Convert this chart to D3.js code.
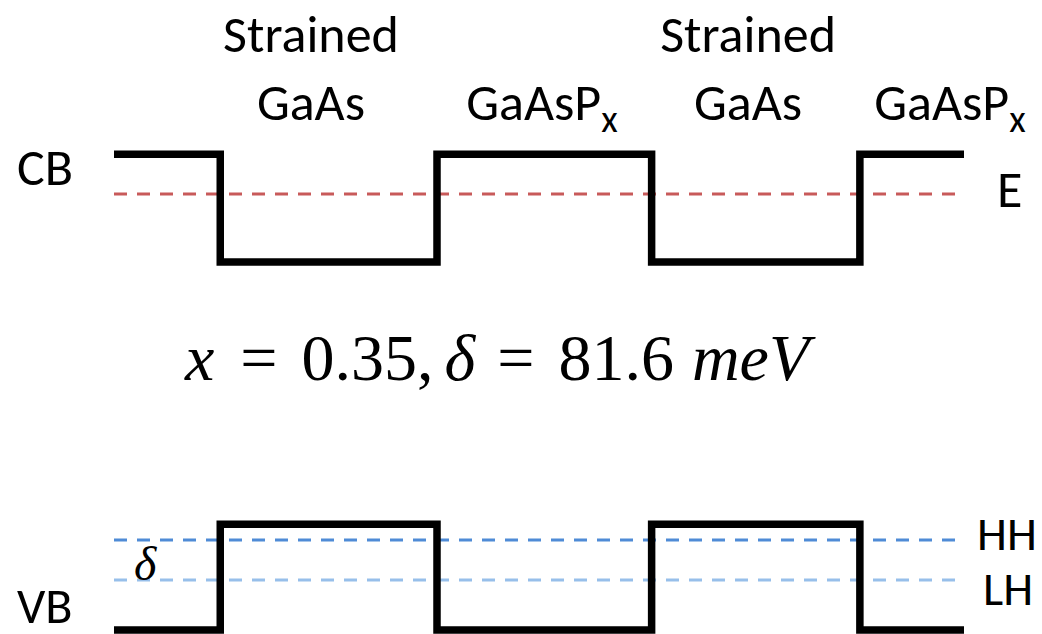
<!DOCTYPE html>
<html>
<head>
<meta charset="utf-8">
<script src="https://cdn.jsdelivr.net/npm/d3@7"></script>
<style>
  body { margin: 0; background: white; }
  svg { display: block; }
</style>
</head>
<body>
<script>
// layer stack, left to right (thickness in arbitrary nm-like units)
const layers = ['GaAsP', 'GaAs', 'GaAsP', 'GaAs', 'GaAsP'];
const thickness = [5, 10.2, 10.1, 9.8, 4.9];
// band edges in meV (zero = VB edge of the GaAsP barrier)
const cbEdge = [971, 751, 971, 751, 971];
const vbEdge = [0, 216, 0, 216, 0];
// dashed levels
const levelNames = ['E', 'HH', 'LH'];
const levelEnergy = [890, 183.6, 102];
const levelColors = ['#c85a5a', '#4f8bd6', '#97bfea'];
// top labels
const topLabels = [['Strained', 'GaAs'], ['GaAsP'], ['Strained', 'GaAs'], ['GaAsP']];
const topLabelPos = [9.27, 20.14, 29.84, 39.34];

let dim = { width: 1042, height: 634 };
let svg = d3.select('body').append('svg')
  .attr('width', dim.width)
  .attr('height', dim.height);

let scaleX = d3.scaleLinear().domain([0, 40]).range([114, 964]);
let scaleY = d3.scaleLinear().domain([0, 1000]).range([630, 140]);

let bounds = [0];
thickness.forEach((t) => bounds.push(bounds[bounds.length - 1] + t));

function stepPoints(edge) {
  let pts = layers.map((l, i) => ({ x: bounds[i], e: edge[i] }));
  pts.push({ x: bounds[bounds.length - 1], e: edge[edge.length - 1] });
  return pts;
}

let step = d3.line()
  .x((d) => scaleX(d.x))
  .y((d) => scaleY(d.e))
  .curve(d3.curveStepAfter);

// dashed levels first, so the band edges sit on top
let lvl = svg.append('g');
levelNames.forEach((name, i) => {
  lvl.append('line')
    .attr('x1', scaleX(0))
    .attr('x2', scaleX(40))
    .attr('y1', scaleY(levelEnergy[i]))
    .attr('y2', scaleY(levelEnergy[i]))
    .attr('stroke', levelColors[i])
    .attr('stroke-width', 3)
    .attr('stroke-dasharray', '13,10');
});

// band edges
[cbEdge, vbEdge].forEach((edge) => {
  svg.append('path')
    .attr('d', step(stepPoints(edge)))
    .attr('fill', 'none')
    .attr('stroke', 'black')
    .attr('stroke-width', 7.5)
    .attr('stroke-linejoin', 'miter');
});

const sans = 'Carlito, Calibri, Lato, sans-serif';
const serif = '"Liberation Serif", "Times New Roman", serif';

// layer labels on top
topLabels.forEach((lines, i) => {
  let t = svg.append('text')
    .attr('x', scaleX(topLabelPos[i]))
    .attr('y', lines.length === 2 ? 52 : 120)
    .attr('text-anchor', 'middle')
    .style('font-family', sans)
    .style('font-size', '52px');
  if (lines.length === 2) {
    t.append('tspan').attr('x', scaleX(topLabelPos[i])).text(lines[0]);
    t.append('tspan').attr('x', scaleX(topLabelPos[i])).attr('y', 120).text(lines[1]);
  } else {
    t.append('tspan').text(lines[0]);
    t.append('tspan').attr('dy', 12).style('font-size', '38px').text('x');
  }
});

// band labels
let sideLabels = [
  { t: 'CB', x: 17, y: scaleY(cbEdge[0]) + 31, s: 52 },
  { t: 'VB', x: 17, y: scaleY(vbEdge[0]) - 7, s: 50 },
  { t: 'E', x: 997, y: scaleY(levelEnergy[0]) + 13, s: 52 },
  { t: 'HH', x: 977, y: scaleY(levelEnergy[1]) + 10, s: 48 },
  { t: 'LH', x: 983, y: scaleY(levelEnergy[2]) + 25, s: 48 },
];
svg.selectAll('text.side')
  .data(sideLabels)
  .enter()
  .append('text')
  .attr('class', 'side')
  .attr('x', (d) => d.x)
  .attr('y', (d) => d.y)
  .style('font-family', sans)
  .style('font-size', (d) => d.s + 'px')
  .text((d) => d.t);

// delta marker between HH and LH
svg.append('text')
  .attr('x', 134)
  .attr('y', scaleY(levelEnergy[2]))
  .style('font-family', serif)
  .style('font-style', 'italic')
  .style('font-size', '48px')
  .text('δ');

// equation
let eq = svg.append('text')
  .attr('x', 185)
  .attr('y', 380)
  .style('font-family', serif)
  .style('font-size', '66px');
let parts = [
  { t: 'x', it: true, dx: 0 },
  { t: '=', it: false, dx: 26 },
  { t: '0.35,', it: false, dx: 24 },
  { t: 'δ', it: true, dx: 11 },
  { t: '=', it: false, dx: 22 },
  { t: '81.6', it: false, dx: 24 },
  { t: 'meV', it: true, dx: 18 },
];
parts.forEach((p) => {
  eq.append('tspan')
    .attr('dx', p.dx)
    .style('font-style', p.it ? 'italic' : 'normal')
    .text(p.t);
});
</script>
</body>
</html>
